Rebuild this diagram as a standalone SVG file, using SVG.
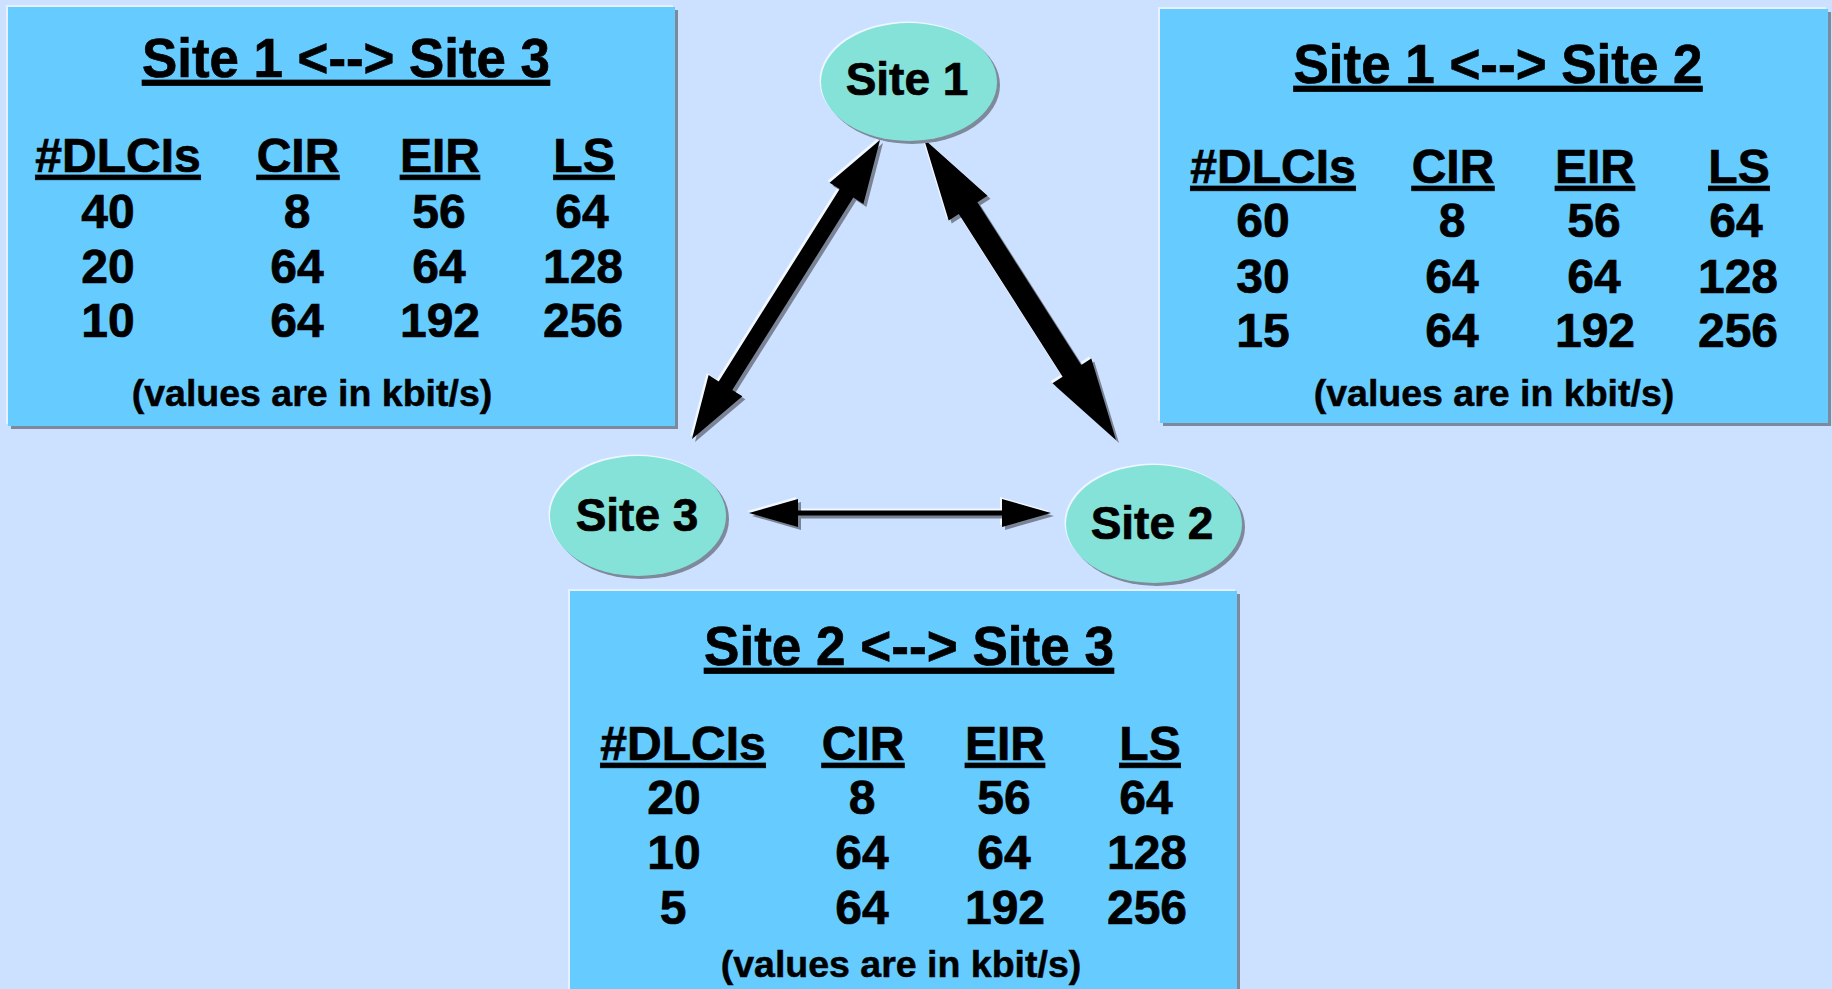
<svg xmlns="http://www.w3.org/2000/svg" xmlns:xlink="http://www.w3.org/1999/xlink" width="1832" height="989" viewBox="0 0 1832 989">
<style>
.bg{fill:#CCE0FF}
.box{fill:#66CCFF}
.boxsh{fill:#7E8A9C}
.boxhl{fill:#E6F0FF}
.ell{fill:#84E2D8}
.ellsh{fill:#7E8A9C}
.ellhl{fill:#EEF6FF}
text{font-family:"Liberation Sans",Arial,sans-serif;font-weight:bold;fill:#000;stroke:#000;stroke-width:0.7px;text-anchor:middle}
.title{font-size:56px;text-decoration:underline}
.hdr{font-size:48px;text-decoration:underline}
.num{font-size:48px}
.note{font-size:37.5px;stroke-width:0.5px}
.site{font-size:46px}
.arr{fill:#000}
.arrsh{fill:#7A8496}
.arrhl{fill:#F2F8FF}
</style>
<defs>
<polygon id="a13" points="880,140 829.6,182.7 839.7,189.0 718.7,381.4 708.6,375.1 692,439 742.4,396.3 732.3,390.0 853.3,197.6 863.4,203.9"/>
<polygon id="a12" points="924,139 987.5,195.7 977.4,202.2 1081.2,365.0 1091.3,358.5 1116,440 1052.5,383.3 1062.6,376.8 958.8,214.0 948.7,220.5"/>
<polygon id="a23" points="749,513 798,499 798,510.5 1002,510.5 1002,499 1051,513 1002,527 1002,515.5 798,515.5 798,527"/>
</defs>
<rect class="bg" x="0" y="0" width="1832" height="989"/>

<g id="box-s1-s3">
<rect class="boxhl" x="6" y="5" width="667" height="419"/>
<rect class="boxsh" x="11" y="10" width="667" height="419"/>
<rect class="box" x="8" y="7" width="667" height="419"/>
<text class="title" x="346" y="77" textLength="408" lengthAdjust="spacingAndGlyphs">Site 1 &lt;--&gt; Site 3</text>
<text class="hdr" x="118" y="172">#DLCIs</text>
<text class="hdr" x="298" y="172">CIR</text>
<text class="hdr" x="440" y="172">EIR</text>
<text class="hdr" x="584" y="172">LS</text>
<text class="num" x="108" y="228">40</text>
<text class="num" x="297" y="228">8</text>
<text class="num" x="439" y="228">56</text>
<text class="num" x="582" y="228">64</text>
<text class="num" x="108" y="283">20</text>
<text class="num" x="297" y="283">64</text>
<text class="num" x="439" y="283">64</text>
<text class="num" x="583" y="283">128</text>
<text class="num" x="108" y="337">10</text>
<text class="num" x="297" y="337">64</text>
<text class="num" x="440" y="337">192</text>
<text class="num" x="583" y="337">256</text>
<text class="note" x="312" y="406">(values are in kbit/s)</text>
</g>

<g id="box-s1-s2">
<rect class="boxhl" x="1158" y="7" width="668" height="414"/>
<rect class="boxsh" x="1163" y="12" width="668" height="414"/>
<rect class="box" x="1160" y="9" width="668" height="414"/>
<text class="title" x="1498" y="83" textLength="409" lengthAdjust="spacingAndGlyphs">Site 1 &lt;--&gt; Site 2</text>
<text class="hdr" x="1273" y="183">#DLCIs</text>
<text class="hdr" x="1453" y="183">CIR</text>
<text class="hdr" x="1595" y="183">EIR</text>
<text class="hdr" x="1739" y="183">LS</text>
<text class="num" x="1263" y="237">60</text>
<text class="num" x="1452" y="237">8</text>
<text class="num" x="1594" y="237">56</text>
<text class="num" x="1736" y="237">64</text>
<text class="num" x="1263" y="293">30</text>
<text class="num" x="1452" y="293">64</text>
<text class="num" x="1594" y="293">64</text>
<text class="num" x="1738" y="293">128</text>
<text class="num" x="1263" y="347">15</text>
<text class="num" x="1452" y="347">64</text>
<text class="num" x="1595" y="347">192</text>
<text class="num" x="1738" y="347">256</text>
<text class="note" x="1494" y="406">(values are in kbit/s)</text>
</g>

<g id="box-s2-s3">
<rect class="boxhl" x="568" y="589" width="667" height="420"/>
<rect class="boxsh" x="573" y="594" width="667" height="420"/>
<rect class="box" x="570" y="591" width="667" height="420"/>
<text class="title" x="909" y="665" textLength="410" lengthAdjust="spacingAndGlyphs">Site 2 &lt;--&gt; Site 3</text>
<text class="hdr" x="683" y="760">#DLCIs</text>
<text class="hdr" x="863" y="760">CIR</text>
<text class="hdr" x="1005" y="760">EIR</text>
<text class="hdr" x="1150" y="760">LS</text>
<text class="num" x="674" y="814">20</text>
<text class="num" x="862" y="814">8</text>
<text class="num" x="1004" y="814">56</text>
<text class="num" x="1146" y="814">64</text>
<text class="num" x="674" y="869">10</text>
<text class="num" x="862" y="869">64</text>
<text class="num" x="1004" y="869">64</text>
<text class="num" x="1147" y="869">128</text>
<text class="num" x="673" y="924">5</text>
<text class="num" x="862" y="924">64</text>
<text class="num" x="1005" y="924">192</text>
<text class="num" x="1147" y="924">256</text>
<text class="note" x="901" y="977">(values are in kbit/s)</text>
</g>

<g id="connectors">
<use href="#a13" class="arrhl" transform="translate(-2,-2)"/>
<use href="#a13" class="arrsh" transform="translate(3,3)"/>
<use href="#a13" class="arr"/>
<use href="#a12" class="arrhl" transform="translate(-2,-2)"/>
<use href="#a12" class="arrsh" transform="translate(3,3)"/>
<use href="#a12" class="arr"/>
<use href="#a23" class="arrhl" transform="translate(-2,-2)"/>
<use href="#a23" class="arrsh" transform="translate(3,3)"/>
<use href="#a23" class="arr"/>
</g>

<g id="site1">
<ellipse class="ellhl" cx="907.5" cy="80.5" rx="88" ry="59"/>
<ellipse class="ellsh" cx="912" cy="85" rx="88" ry="59"/>
<ellipse class="ell" cx="909" cy="82" rx="88" ry="59"/>
<text class="site" x="907" y="95">Site 1</text>
</g>

<g id="site3">
<ellipse class="ellhl" cx="636.5" cy="514.5" rx="88" ry="60"/>
<ellipse class="ellsh" cx="641" cy="519" rx="88" ry="60"/>
<ellipse class="ell" cx="638" cy="516" rx="88" ry="60"/>
<text class="site" x="637" y="531">Site 3</text>
</g>

<g id="site2">
<ellipse class="ellhl" cx="1152.5" cy="522.5" rx="88" ry="59"/>
<ellipse class="ellsh" cx="1157" cy="527" rx="88" ry="59"/>
<ellipse class="ell" cx="1154" cy="524" rx="88" ry="59"/>
<text class="site" x="1152" y="539">Site 2</text>
</g>
</svg>
